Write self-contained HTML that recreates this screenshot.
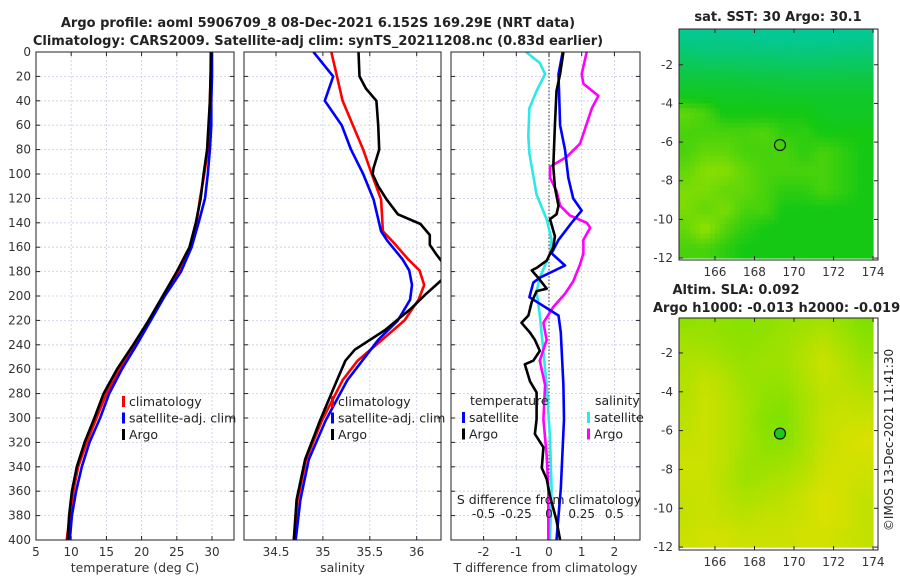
<!DOCTYPE html>
<html><head><meta charset="utf-8"><style>
body{margin:0;background:#fff;}
svg{display:block;font-family:"DejaVu Sans","Liberation Sans",sans-serif;}
</style></head><body>
<svg id="fig" width="900" height="580" viewBox="0 0 900 580" xmlns="http://www.w3.org/2000/svg">
<rect width="900" height="580" fill="#fff"/>
<text x="318" y="27" text-anchor="middle" font-size="13" font-weight="bold" fill="#222">Argo profile: aoml 5906709_8 08-Dec-2021 6.152S 169.29E (NRT data)</text>
<text x="318" y="45" text-anchor="middle" font-size="13" font-weight="bold" fill="#222">Climatology: CARS2009. Satellite-adj clim: synTS_20211208.nc (0.83d earlier)</text>
<text x="778" y="21" text-anchor="middle" font-size="13" font-weight="bold" fill="#222">sat. SST: 30 Argo: 30.1</text>
<text x="736" y="294" text-anchor="middle" font-size="13" font-weight="bold" fill="#222">Altim. SLA: 0.092</text>
<text x="653" y="312" font-size="13" font-weight="bold" fill="#222">Argo h1000: -0.013 h2000: -0.019</text>
<text transform="translate(893,440) rotate(-90)" text-anchor="middle" font-size="12" fill="#222">©IMOS 13-Dec-2021 11:41:30</text>
<g id="plots"></g>
</svg>
<script>
// ---- data ----
const depthTicks=[0,20,40,60,80,100,120,140,160,180,200,220,240,260,280,300,320,340,360,380,400];
const tempTicks=[5,10,15,20,25,30];
const salTicks=[34.5,35,35.5,36];
const tdiffTicks=[-2,-1,0,1,2];
const sdiffTicks=[-0.5,-0.25,0,0.25,0.5];
const sdiffTickLabels=["-0.5","-0.25","0","0.25","0.5"];
const tClimD=[0,20,40,60,80,100,120,140,160,180,200,220,240,260,280,300,320,340,360,380,400];
const tClim=[29.8,29.8,29.7,29.6,29.4,28.9,28.3,27.8,26.9,25.2,23.1,21.2,19.1,16.9,15.0,13.6,12.2,11.0,10.3,9.8,9.36];
const tSat=[30.0,30.0,29.9,29.9,29.7,29.4,29.0,28.1,27.1,25.6,23.3,21.3,19.3,17.2,15.4,14.1,12.6,11.5,10.7,10.1,9.8];
const tArgo=[29.9,29.8,29.7,29.5,29.3,28.8,28.4,27.7,26.8,25.0,23.0,21.0,18.8,16.5,14.6,13.3,11.9,10.8,10.1,9.7,9.5];
const sClimD=[0,20,40,60,80,100,121,147,155,170,179,191,203,220,236,253,269,302,334,367,400];
const sClim=[35.09,35.15,35.21,35.32,35.43,35.52,35.62,35.64,35.74,35.91,36.03,36.08,36.02,35.87,35.63,35.37,35.21,34.99,34.82,34.73,34.69];
const sSat=[34.9,35.11,35.02,35.2,35.3,35.43,35.54,35.62,35.69,35.85,35.92,35.95,35.93,35.8,35.59,35.42,35.26,35.03,34.85,34.76,34.71];
const sArgoD=[0,20,30,40,60,80,95,100,110,121,133,141,150,158,166,172,180,188,199,211,228,244,253,269,302,334,367,400];
const sArgo=[35.38,35.39,35.46,35.57,35.59,35.6,35.54,35.53,35.59,35.68,35.8,36.04,36.14,36.14,36.21,36.27,36.35,36.25,36.09,35.93,35.66,35.34,35.24,35.15,34.97,34.81,34.72,34.69];
const dTSatD=[0,18,60,80,103,120,130,140,154,165,175,185,189,201,216,230,273,301,358,400];
const dTSat=[0.42,0.29,0.34,0.49,0.59,0.74,1.0,0.69,0.29,0.08,0.49,-0.28,-0.48,-0.6,0.29,0.36,0.44,0.46,0.36,0.23];
const dTArgoD=[0,18,32,60,94,111,126,133,137,151,160,171,177,179,185,194,196,205,216,222,230,236,245,253,256,270,279,301,313,324,341,350,364,384,400];
const dTArgo=[0.44,0.34,0.23,0.18,0.13,0.18,0.29,0.23,0.03,0.18,0.13,-0.07,-0.38,-0.53,-0.33,-0.07,-0.38,-0.53,-0.63,-0.84,-0.58,-0.43,-0.28,-0.48,-0.74,-0.58,-0.38,-0.38,-0.43,-0.17,-0.22,-0.07,0.03,0.23,0.34];
const dSSatD=[0,9,18,32,46,69,83,117,137,154,165,185,196,216,245,273,316,358,400];
const dSSat=[-0.175,-0.07,-0.03,-0.095,-0.15,-0.158,-0.15,-0.095,-0.018,0.02,0.008,-0.07,-0.095,-0.07,-0.043,-0.018,0.008,0.02,0.008];
const dSArgoD=[0,18,26,36,46,75,86,94,103,114,126,134,140,144,154,165,174,188,198,209,222,236,253,273,301,330,358,400];
const dSArgo=[0.288,0.25,0.263,0.378,0.328,0.238,0.135,0.008,0.008,0.058,0.085,0.16,0.288,0.315,0.263,0.263,0.238,0.185,0.123,0.033,-0.043,-0.018,-0.07,-0.03,-0.043,-0.018,-0.005,-0.005];
const lonTicks=[166,168,170,172,174];
const latTicks=[-2,-4,-6,-8,-10,-12];
const argoLon=169.29, argoLat=-6.152;
// SST map grid, rows lat 0..-12 (1 deg), cols lon 164..174 ; 0 = teal, 0.5 = green, 1 = yellow
const sstGrid=[
[0.1,0.1,0.1,0.1,0.08,0.08,0.08,0.08,0.08,0.1],
[0.22,0.2,0.2,0.2,0.2,0.18,0.18,0.18,0.2,0.2],
[0.35,0.35,0.35,0.33,0.33,0.33,0.32,0.32,0.33,0.33],
[0.45,0.45,0.44,0.44,0.43,0.42,0.42,0.42,0.42,0.42],
[0.65,0.6,0.5,0.5,0.5,0.5,0.5,0.45,0.45,0.45],
[0.6,0.6,0.6,0.6,0.62,0.55,0.55,0.5,0.5,0.5],
[0.6,0.65,0.65,0.6,0.6,0.6,0.55,0.6,0.55,0.5],
[0.65,0.72,0.72,0.65,0.6,0.6,0.6,0.6,0.55,0.5],
[0.7,0.7,0.65,0.65,0.6,0.55,0.55,0.6,0.55,0.5],
[0.7,0.65,0.7,0.6,0.6,0.5,0.5,0.5,0.5,0.5],
[0.65,0.75,0.62,0.55,0.5,0.5,0.5,0.5,0.5,0.5],
[0.6,0.6,0.55,0.5,0.5,0.5,0.5,0.5,0.5,0.5]];
// SLA map grid ; 0 = green, 1 = yellow
const slaGrid=[
[0.35,0.4,0.35,0.3,0.35,0.4,0.45,0.5,0.4,0.25],
[0.5,0.45,0.4,0.35,0.4,0.45,0.55,0.65,0.5,0.35],
[0.55,0.6,0.5,0.4,0.45,0.45,0.6,0.75,0.6,0.45],
[0.6,0.7,0.6,0.45,0.4,0.4,0.55,0.7,0.65,0.55],
[0.6,0.75,0.65,0.5,0.35,0.3,0.5,0.65,0.7,0.65],
[0.65,0.75,0.65,0.5,0.3,0.25,0.5,0.7,0.75,0.75],
[0.7,0.75,0.65,0.5,0.35,0.3,0.5,0.7,0.8,0.85],
[0.75,0.75,0.65,0.45,0.4,0.45,0.55,0.75,0.8,0.8],
[0.75,0.75,0.6,0.45,0.5,0.55,0.65,0.8,0.8,0.75],
[0.7,0.75,0.65,0.55,0.6,0.65,0.75,0.85,0.8,0.7],
[0.7,0.75,0.7,0.65,0.7,0.7,0.75,0.85,0.8,0.7],
[0.75,0.8,0.8,0.75,0.75,0.75,0.8,0.8,0.75,0.7]];

// ---- drawing ----
const NS="http://www.w3.org/2000/svg";
const root=document.getElementById('plots');
function mk(tag,attrs,parent){const e=document.createElementNS(NS,tag);for(const k in attrs)e.setAttribute(k,attrs[k]);(parent||root).appendChild(e);return e;}
const Y0=52,Y1=540;
const yD=d=>Y0+(Y1-Y0)*d/400;
function axesFrame(x0,x1,ticks,xf,labels,name,ylabels,xlabelText,xlabelY){
  const g=mk('g',{});
  
  
  depthTicks.forEach(d=>{const l=mk('line',{x1:x0,x2:x1,y1:yD(d),y2:yD(d),stroke:'#c8cce8','stroke-width':0.8,'stroke-dasharray':'2,2'},g);});
  ticks.forEach(t=>{const x=xf(t);const l=mk('line',{x1:x,x2:x,y1:Y0,y2:Y1,stroke:'#c8cce8','stroke-width':0.8,'stroke-dasharray':'2,2'},g);});
  depthTicks.forEach(d=>{mk('line',{x1:x0,x2:x0+4,y1:yD(d),y2:yD(d),stroke:'#222'},g);mk('line',{x1:x1,x2:x1-4,y1:yD(d),y2:yD(d),stroke:'#222'},g);});
  ticks.forEach((t,i)=>{const x=xf(t);mk('line',{x1:x,x2:x,y1:Y1,y2:Y1-4,stroke:'#222'},g);mk('line',{x1:x,x2:x,y1:Y0,y2:Y0+4,stroke:'#222'},g);
    const tx=mk('text',{x:x,y:Y1+16,'text-anchor':'middle','font-size':12,fill:'#333'},g);tx.textContent=labels[i];});
  if(ylabels){depthTicks.forEach(d=>{const tx=mk('text',{x:x0-5,y:yD(d)+4,'text-anchor':'end','font-size':12,fill:'#333'},g);tx.textContent=d;});}
  const xl=mk('text',{x:(x0+x1)/2,y:xlabelY,'text-anchor':'middle','font-size':12.5,fill:'#333'},g);xl.textContent=xlabelText;
  return g;
}
function frame(x0,x1,g){const r=mk('rect',{x:x0,y:Y0,width:x1-x0,height:Y1-Y0,fill:'none',stroke:'#222','stroke-width':1},g);}
function line(ds,vs,xf,color,name,x0,x1,g,w){
  const pts=ds.map((d,i)=>xf(vs[i]).toFixed(1)+','+yD(d).toFixed(1)).join(' ');
  const cid='c'+name;
  const cp=mk('clipPath',{id:cid},g);mk('rect',{x:x0,y:Y0,width:x1-x0,height:Y1-Y0},cp);
  const p=mk('polyline',{points:pts,fill:'none',stroke:color,'stroke-width':w||2.6,'stroke-linejoin':'round','clip-path':'url(#'+cid+')'},g);
  
  
}
function legend(x,y,items,g,name){
  const lg=mk('g',{},g);
  
  
  items.forEach((it,i)=>{const yy=y+i*16.5;
    if(it[1]) mk('rect',{x:x,y:yy-10,width:3,height:11,fill:it[1]},lg);
    const t=mk('text',{x:x+(it[1]?7:0),y:yy,'font-size':12.5,fill:'#222'},lg);t.textContent=it[0];});
}
// panel 1: temperature
const tx=v=>36+(v-5)*7.04;
let g1=axesFrame(36,234,tempTicks,tx,tempTicks.map(String),'temperature-panel',true,'temperature (deg C)',572);
line(tClimD,tClim,tx,'#f00','temp-climatology-line',36,234,g1);
line(tClimD,tSat,tx,'#00f','temp-satellite-line',36,234,g1);
line(tClimD,tArgo,tx,'#000','temp-argo-line',36,234,g1);
frame(36,234,g1);
legend(122,406,[['climatology','#f00'],['satellite-adj. clim','#00f'],['Argo','#000']],g1,'temperature-legend');
// panel 2: salinity
const sx=v=>276+(v-34.5)*93.8;
let g2=axesFrame(244,441,salTicks,sx,salTicks.map(String),'salinity-panel',false,'salinity',572);
line(sClimD,sClim,sx,'#f00','sal-climatology-line',244,441,g2);
line(sClimD,sSat,sx,'#00f','sal-satellite-line',244,441,g2);
line(sArgoD,sArgo,sx,'#000','sal-argo-line',244,441,g2);
frame(244,441,g2);
legend(331,406,[['climatology','#f00'],['satellite-adj. clim','#00f'],['Argo','#000']],g2,'salinity-legend');
// panel 3: differences
const dx=v=>549+v*32.7;
const dsx=v=>549+v*4*32.7;
let g3=axesFrame(451,640,tdiffTicks,dx,tdiffTicks.map(String),'difference-panel',false,'T difference from climatology',572);
mk('line',{x1:dx(0),x2:dx(0),y1:Y0,y2:Y1,stroke:'#333','stroke-width':1,'stroke-dasharray':'1.5,2'},g3);
line(dSSatD,dSSat,dsx,'#2ee8e8','sdiff-satellite-line',451,640,g3);
line(dSArgoD,dSArgo,dsx,'#f0f','sdiff-argo-line',451,640,g3);
line(dTSatD,dTSat,dx,'#00f','tdiff-satellite-line',451,640,g3);
line(dTArgoD,dTArgo,dx,'#000','tdiff-argo-line',451,640,g3);
frame(451,640,g3);
const st=mk('text',{x:549,y:504,'text-anchor':'middle','font-size':12.5,fill:'#222'},g3);st.textContent='S difference from climatology';


sdiffTicks.forEach((t,i)=>{const tt=mk('text',{x:dsx(t),y:518,'text-anchor':'middle','font-size':12,fill:'#222'},g3);tt.textContent=sdiffTickLabels[i];

});
legend(470,405,[['temperature',null]],g3,'tdiff-legend-title');
legend(462,422,[['satellite','#00f'],['Argo','#000']],g3,'tdiff-legend');
legend(595,405,[['salinity',null]],g3,'sdiff-legend-title');
legend(587,422,[['satellite','#2ee8e8'],['Argo','#f0f']],g3,'sdiff-legend');

// maps
function lerp(a,b,t){return a+(b-a)*t;}
function cmapSST(v){const s=[[0,[0,200,175]],[0.5,[20,200,20]],[0.75,[150,225,0]],[1,[255,225,0]]];
  for(let i=1;i<s.length;i++)if(v<=s[i][0]){const t=(v-s[i-1][0])/(s[i][0]-s[i-1][0]);const a=s[i-1][1],b=s[i][1];return 'rgb('+[0,1,2].map(k=>Math.round(lerp(a[k],b[k],t))).join(',')+')';}
  return 'rgb(255,225,0)';}
function cmapSLA(v){const a=[90,225,0],b=[240,225,0];return 'rgb('+[0,1,2].map(k=>Math.round(lerp(a[k],b[k],v))).join(',')+')';}
function sample(grid,r,c){ // bilinear at fractional cell-center coords
  const R=grid.length,C=grid[0].length;
  r=Math.max(0,Math.min(R-1,r));c=Math.max(0,Math.min(C-1,c));
  const r0=Math.floor(r),c0=Math.floor(c),r1=Math.min(R-1,r0+1),c1=Math.min(C-1,c0+1),fr=r-r0,fc=c-c0;
  return lerp(lerp(grid[r0][c0],grid[r0][c1],fc),lerp(grid[r1][c0],grid[r1][c1],fc),fr);
}
function drawMap(name,x0,x1,y0,y1,latTop,latBot,grid,cmap,filled,sub){
  const lon0=164.18,lon1=174.25;
  const mx=l=>x0+(l-lon0)/(lon1-lon0)*(x1-x0);
  const my=l=>y0+(latTop-l)/(latTop-latBot)*(y1-y0);
  const g=mk('g',{});
  
  
  const cid='clip'+name;const cp=mk('clipPath',{id:cid},g);mk('rect',{x:x0,y:y0,width:x1-x0,height:y1-y0},cp);
  const cg=mk('g',{'clip-path':'url(#'+cid+')'},g);
  const R=grid.length,C=grid[0].length;
  for(let i=0;i<R*sub;i++)for(let j=0;j<C*sub;j++){
    const v=sample(grid,(i+0.5)/sub-0.5,(j+0.5)/sub-0.5);
    const xa=mx(164+j/sub),xb=mx(164+(j+1)/sub),ya=my(-i/sub),yb=my(-(i+1)/sub);
    const cell=mk('rect',{x:xa.toFixed(1),y:ya.toFixed(1),width:(xb-xa+0.6).toFixed(1),height:(yb-ya+0.6).toFixed(1),fill:cmap(v)},cg);
    
    
  }
  mk('rect',{x:x0,y:y0,width:x1-x0,height:y1-y0,fill:'none',stroke:'#222','stroke-width':1},g);
  latTicks.forEach(l=>{const y=my(l);mk('line',{x1:x0,x2:x0+4,y1:y,y2:y,stroke:'#222'},g);mk('line',{x1:x1,x2:x1-4,y1:y,y2:y,stroke:'#222'},g);
    const t=mk('text',{x:x0-6,y:y+4,'text-anchor':'end','font-size':12,fill:'#333'},g);t.textContent=l;
    
    });
  lonTicks.forEach(l=>{const x=mx(l);mk('line',{x1:x,x2:x,y1:y1,y2:y1-4,stroke:'#222'},g);mk('line',{x1:x,x2:x,y1:y0,y2:y0+4,stroke:'#222'},g);
    const t=mk('text',{x:x,y:y1+16,'text-anchor':'middle','font-size':12,fill:'#333'},g);t.textContent=l;
    
    });
  const c=mk('circle',{cx:mx(argoLon),cy:my(argoLat),r:5.5,fill:filled||'none',stroke:'#111','stroke-width':1.2},g);
  
  
}
drawMap('sst-map',679,878,29,260,-0.15,-12.1,sstGrid,cmapSST,null,4);
drawMap('sla-map',679,878,318,550,-0.2,-12.15,slaGrid,cmapSLA,'#1ec81e',4);
</script>
</body></html>
